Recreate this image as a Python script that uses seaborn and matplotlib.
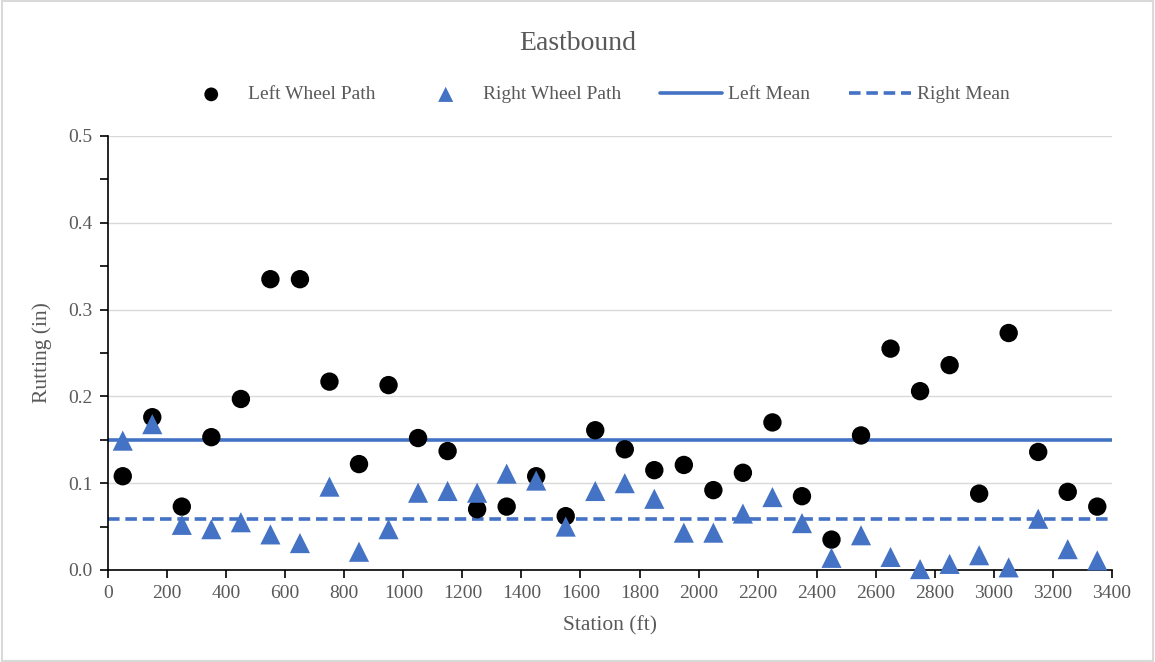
import numpy as np
import pandas as pd
import matplotlib
matplotlib.use("Agg")
import matplotlib.pyplot as plt
import seaborn as sns

# Station positions (ft) and rut depths (in)
stations = [50, 150, 250, 350, 450, 550, 650, 750, 850, 950,
            1050, 1150, 1250, 1350, 1450, 1550, 1650, 1750, 1850, 1950,
            2050, 2150, 2250, 2350, 2450, 2550, 2650, 2750, 2850, 2950,
            3050, 3150, 3250, 3350]
left_wheel = [0.108, 0.176, 0.073, 0.153, 0.197, 0.335, 0.335, 0.217, 0.122, 0.213,
              0.152, 0.137, 0.070, 0.073, 0.108, 0.062, 0.161, 0.139, 0.115, 0.121,
              0.092, 0.112, 0.170, 0.085, 0.035, 0.155, 0.255, 0.206, 0.236, 0.088,
              0.273, 0.136, 0.090, 0.073]
right_wheel = [0.149, 0.168, 0.052, 0.047, 0.055, 0.041, 0.031, 0.096, 0.021, 0.047,
               0.089, 0.091, 0.089, 0.111, 0.103, 0.050, 0.091, 0.100, 0.082, 0.043,
               0.043, 0.065, 0.084, 0.054, 0.014, 0.040, 0.015, 0.001, 0.007, 0.017,
               0.003, 0.059, 0.024, 0.011]

x_ticks = list(range(0, 3401, 200))
y_ticks = [0.0, 0.1, 0.2, 0.3, 0.4, 0.5]

df = pd.DataFrame({"Station": stations, "Left": left_wheel, "Right": right_wheel})
left_mean = float(np.mean(left_wheel))
right_mean = float(np.mean(right_wheel))

sns.set_theme(style="white")
plt.rcParams["font.family"] = ["Liberation Serif", "DejaVu Serif"]

text_gray = "#595959"
blue = "#4472C4"

fig = plt.figure(figsize=(11.55, 6.62), dpi=100)
ax = fig.add_axes([0.0935, 0.139, 0.8693, 0.6556])

ax.set_axisbelow(True)
for yv in y_ticks[1:]:
    ax.axhline(yv, color="#d9d9d9", lw=1.0, zorder=0)

sns.scatterplot(data=df, x="Station", y="Left", ax=ax, marker="o", s=175,
                color="black", edgecolor="none", zorder=3, label="Left Wheel Path",
                clip_on=False)
sns.scatterplot(data=df, x="Station", y="Right", ax=ax, marker="^", s=210,
                color=blue, edgecolor="none", zorder=3, label="Right Wheel Path",
                clip_on=False)
ax.axhline(left_mean, color=blue, lw=2.6, zorder=2, label="Left Mean")
ax.axhline(right_mean, color=blue, lw=2.6, ls=(0, (3.2, 1.6)), zorder=2, label="Right Mean")

ax.set_xlim(0, 3400)
ax.set_ylim(0, 0.5)
ax.set_xticks(x_ticks)
ax.set_xticklabels([str(v) for v in x_ticks])
ax.set_yticks(y_ticks)
ax.set_yticklabels([f"{v:.1f}" for v in y_ticks])
ax.set_yticks(np.arange(0.05, 0.5, 0.1), minor=True)

for side in ["top", "right"]:
    ax.spines[side].set_visible(False)
for side in ["left", "bottom"]:
    ax.spines[side].set_color("black")
    ax.spines[side].set_linewidth(1.2)

ax.tick_params(axis="both", which="both", direction="out", length=6, width=1.2,
               color="black", labelcolor=text_gray, labelsize=14, pad=5)
ax.tick_params(axis="y", which="minor", left=True, length=6)
ax.tick_params(axis="x", bottom=True)
ax.tick_params(axis="y", left=True)

ax.set_xlabel("Station (ft)", fontsize=15.5, color=text_gray, labelpad=10)
ax.set_ylabel("Rutting (in)", fontsize=15.5, color=text_gray, labelpad=12)

fig.text(0.5, 0.935, "Eastbound", ha="center", va="center", fontsize=20, color=text_gray)

handles, labels = ax.get_legend_handles_labels()
if ax.legend_:
    ax.legend_.remove()
fig.legend(handles, labels, loc="center", bbox_to_anchor=(0.515, 0.857), ncol=4,
           frameon=False, fontsize=14, labelcolor=text_gray, columnspacing=2.0,
           handlelength=3.2, handletextpad=0.3, markerscale=0.75)

# light frame around the figure
fig.patches.append(plt.Rectangle((0.002, 0.002), 0.996, 0.996, transform=fig.transFigure,
                                 fill=False, edgecolor="#d9d9d9", lw=1.5))

fig.savefig("out.png", dpi=100, facecolor="white")
